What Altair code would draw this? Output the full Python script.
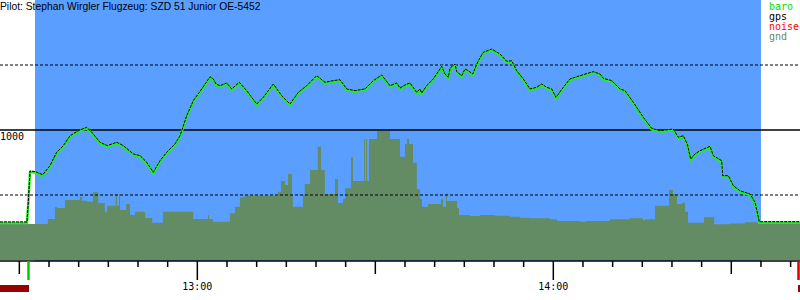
import altair as alt
import pandas as pd

# ---------------- data (time = minutes after 12:00, altitude in m) ----------------
title_text = "Pilot: Stephan Wirgler Flugzeug: SZD 51 Junior OE-5452"

baro_t = [26.74, 31.29, 31.54, 31.80, 32.64, 33.94, 35.17, 36.30, 37.41, 38.54,
          39.94, 41.35, 42.20, 43.59, 44.83, 46.41, 47.52, 49.21, 50.34, 51.47,
          52.58, 53.71, 54.84, 56.24, 57.08, 58.21, 59.32, 60.74, 62.14, 62.69,
          63.15, 63.82, 64.95, 65.79, 67.07, 68.32, 70.01, 71.12, 72.81, 74.22,
          75.62, 77.02, 78.43, 80.12, 81.52, 82.92, 84.05, 85.18, 86.57, 88.26,
          89.66, 91.07, 92.47, 93.60, 94.16, 95.00, 95.85, 96.97, 97.53, 97.82,
          98.66, 99.77, 101.19, 101.74, 102.30, 102.59, 103.43, 103.72, 104.56, 105.12,
          105.67, 106.41, 107.36, 108.20, 109.62, 111.01, 112.14, 112.99, 113.83, 114.94,
          116.07, 117.20, 118.04, 118.89, 119.73, 120.45, 121.69, 122.81, 124.50, 126.74,
          127.87, 128.43, 129.84, 131.24, 132.08, 133.49, 135.17, 136.58, 137.98, 140.22,
          141.07, 141.91, 142.58, 143.16, 143.88, 144.72, 146.41, 146.97, 148.38, 148.55,
          149.50, 150.34, 151.47, 153.15, 154.00, 154.72, 161.58]
baro_alt = [285, 285, 462, 677, 673, 648, 718, 821, 872, 948,
            987, 1013, 975, 898, 872, 898, 872, 808, 795, 744,
            667, 756, 821, 885, 948, 1102, 1218, 1308, 1402, 1385,
            1346, 1333, 1354, 1308, 1359, 1295, 1192, 1244, 1346, 1256,
            1192, 1282, 1333, 1410, 1359, 1372, 1379, 1308, 1295, 1308,
            1372, 1415, 1333, 1354, 1315, 1338, 1354, 1282, 1308, 1277,
            1333, 1385, 1482, 1423, 1398, 1467, 1500, 1441, 1410, 1462,
            1448, 1423, 1525, 1590, 1615, 1577, 1521, 1525, 1448, 1385,
            1308, 1321, 1346, 1321, 1308, 1244, 1321, 1385, 1410, 1441,
            1423, 1390, 1372, 1308, 1295, 1205, 1090, 1005, 987, 1000,
            936, 948, 885, 769, 808, 833, 867, 795, 756, 641,
            641, 564, 525, 500, 436, 287, 287]

gnd_t = [26.74, 31.3, 34.8, 36.0, 36.35, 37.7, 40.2, 40.6, 41.4, 42.4,
         43.3, 44.4, 44.8, 46.24, 46.46, 46.8, 46.97, 48.0, 48.65, 49.5,
         51.2, 52.4, 54.2, 59.3, 61.8, 61.97, 62.6, 65.5, 66.35, 67.2,
         68.0, 73.6, 74.1, 74.8, 75.3, 75.95, 76.1, 77.8, 78.1, 79.0,
         80.3, 80.85, 81.5, 83.2, 83.7, 84.55, 84.9, 85.9, 86.24, 88.1,
         88.26, 88.43, 88.6, 88.94, 90.3, 92.47, 94.16, 95.0, 95.34, 95.68,
         96.35, 97.0, 97.53, 97.87, 98.9, 101.07, 101.41, 101.91, 102.08, 103.77,
         104.1, 105.96, 107.64, 110.17, 112.7, 114.4, 116.07, 119.44, 120.62, 124.5,
         125.5, 129.56, 132.9, 135.12, 135.45, 137.14, 139.5, 140.17, 140.85, 141.7,
         142.2, 142.7, 145.4, 147.1, 149.8, 152.3, 154.3, 161.58]
gnd_alt = [283, 276, 315, 408, 400, 462, 485, 456, 449, 521,
           438, 372, 418, 508, 418, 508, 385, 431, 346, 372,
           323, 287, 372, 315, 346, 315, 295, 359, 410, 482,
           495, 525, 608, 577, 662, 495, 410, 500, 585, 692,
           872, 692, 508, 623, 438, 469, 552, 790, 608, 931,
           608, 931, 608, 931, 992, 931, 795, 892, 931, 892,
           749, 544, 469, 410, 431, 467, 410, 513, 454, 398,
           346, 338, 346, 341, 333, 325, 321, 313, 300, 295,
           300, 313, 321, 308, 313, 418, 538, 508, 431, 441,
           372, 287, 328, 275, 280, 290, 287, 287]

window_start = [32.64]
window_end = [155.0]
grid_dashed_alt = [500, 1500]
grid_solid_alt = [1000]
grid_label_alt = [1000]
grid_label_txt = ["1000"]
tick_minor = [35, 40, 45, 50, 55, 65, 70, 75, 80, 85, 95, 100, 105, 110, 115,
              125, 130, 135, 140, 145, 155, 160]
tick_half = [30, 90, 150]
tick_hour = [60, 120]
hour_labels = ["13:00", "14:00"]
takeoff_t = [31.54]
landing_t = [161.33]
noise_start = [26.74, 161.25]
noise_end = [31.63, 161.58]
legend_names = ["baro", "gps", "noise", "gnd"]
legend_colors = ["#00dd00", "#000000", "#ff0000", "#648c64"]

X_DOMAIN = [26.74, 161.58]
Y_DOMAIN = [0, 2000]
BLUE = "#5a9eff"
GND = "#648c64"
MONO = "DejaVu Sans Mono"

xs = alt.Scale(domain=X_DOMAIN, nice=False, zero=False)
ys = alt.Scale(domain=Y_DOMAIN, nice=False, zero=False)

baro_df = pd.DataFrame({"t": baro_t, "alt": baro_alt})
gnd_df = pd.DataFrame({"t": gnd_t, "alt": gnd_alt})
win_df = pd.DataFrame({"t0": window_start, "t1": window_end})

bg = alt.Chart(win_df).mark_rect(color=BLUE).encode(
    x=alt.X("t0:Q", scale=xs, axis=None), x2="t1:Q",
    y=alt.value(0), y2=alt.value(261))

ground = alt.Chart(gnd_df).mark_area(color=GND, interpolate="step-after", opacity=1).encode(
    x=alt.X("t:Q", scale=xs, axis=None),
    y=alt.Y("alt:Q", scale=ys, axis=None))

dashed = alt.Chart(pd.DataFrame({"a": grid_dashed_alt})).mark_rule(
    color="black", strokeWidth=1, strokeDash=[3, 2]).encode(
    y=alt.Y("a:Q", scale=ys, axis=None), x=alt.value(0), x2=alt.value(800))
solid = alt.Chart(pd.DataFrame({"a": grid_solid_alt})).mark_rule(
    color="black", strokeWidth=1.3).encode(
    y=alt.Y("a:Q", scale=ys, axis=None), x=alt.value(0), x2=alt.value(800))
grid_lbl = alt.Chart(pd.DataFrame({"a": grid_label_alt, "s": grid_label_txt})).mark_text(
    font=MONO, fontSize=10, align="left", baseline="alphabetic", dy=10, color="black").encode(
    y=alt.Y("a:Q", scale=ys, axis=None), x=alt.value(0), text="s:N")

baro = alt.Chart(baro_df).mark_line(color="#22ee22", strokeWidth=2.5).encode(
    x=alt.X("t:Q", scale=xs, axis=None), y=alt.Y("alt:Q", scale=ys, axis=None))
gps = alt.Chart(baro_df).mark_line(color="black", strokeWidth=1, strokeDash=[3, 1], yOffset=-1).encode(
    x=alt.X("t:Q", scale=xs, axis=None), y=alt.Y("alt:Q", scale=ys, axis=None))

axis_line = alt.Chart(pd.DataFrame({"a": [0]})).mark_rule(color="black", strokeWidth=1.3).encode(
    x=alt.value(0), x2=alt.value(800), y=alt.value(261))

def ticks(vals, y2, color="black", width=1.5):
    return alt.Chart(pd.DataFrame({"t": vals})).mark_rule(color=color, strokeWidth=width).encode(
        x=alt.X("t:Q", scale=xs, axis=None), y=alt.value(261), y2=alt.value(y2))

t_minor = ticks(tick_minor, 267)
t_half = ticks(tick_half, 274)
t_hour = ticks(tick_hour, 280)
t_start = ticks(takeoff_t, 280, "#00cc00", 2.5)
t_end = ticks(landing_t, 280, "#dd0000", 2.5)

hour_txt = alt.Chart(pd.DataFrame({"t": tick_hour, "s": hour_labels})).mark_text(
    font=MONO, fontSize=10, align="center", baseline="alphabetic", color="black").encode(
    x=alt.X("t:Q", scale=xs, axis=None), y=alt.value(289.5), text="s:N")

noise = alt.Chart(pd.DataFrame({"t0": noise_start, "t1": noise_end})).mark_rect(color="#990000").encode(
    x=alt.X("t0:Q", scale=xs, axis=None), x2="t1:Q", y=alt.value(285), y2=alt.value(292))

title = alt.Chart(pd.DataFrame({"s": [title_text]})).mark_text(
    font="Liberation Sans", fontSize=10.3, align="left", baseline="alphabetic", color="black").encode(
    x=alt.value(0), y=alt.value(10), text="s:N")

legend_layers = []
for i, (n, c) in enumerate(zip(legend_names, legend_colors)):
    legend_layers.append(
        alt.Chart(pd.DataFrame({"s": [n]})).mark_text(
            font=MONO, fontSize=10, align="left", baseline="alphabetic", color=c).encode(
            x=alt.value(769), y=alt.value(9.5 + 10.3 * i), text="s:N"))

chart = alt.layer(bg, ground, dashed, solid, grid_lbl, baro, gps, axis_line,
                  t_minor, t_half, t_hour, t_start, t_end, hour_txt, noise, title,
                  *legend_layers).properties(
    width=800, height=260,
    autosize=alt.AutoSizeParams(type="none"),
    padding={"left": 0, "top": 0, "right": 0, "bottom": 40},
    background="white",
).configure_view(stroke=None)

chart.save("out.html", embed_options={"renderer": "svg", "actions": False})
